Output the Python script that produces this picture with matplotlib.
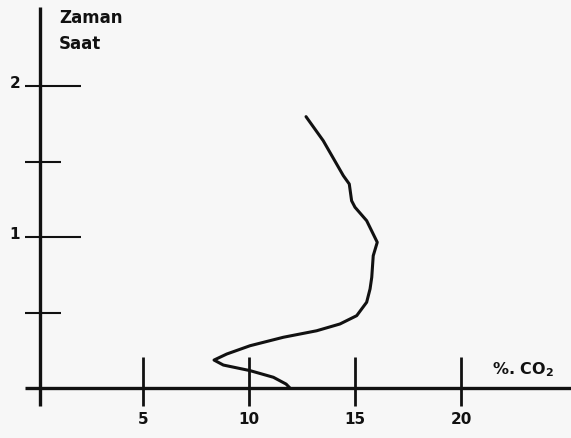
import matplotlib
matplotlib.use("Agg")
import matplotlib.pyplot as plt

# Data
co2 = [11.93, 11.75, 11.15, 10.05, 8.79, 8.35, 8.95, 10.05, 11.62, 13.19,
       14.29, 15.08, 15.55, 15.71, 15.79, 15.86, 16.05, 15.55, 15.00, 14.84,
       14.73, 14.45, 13.50, 12.69]
hours = [0.0, 0.026, 0.071, 0.115, 0.152, 0.185, 0.225, 0.280, 0.336, 0.379,
         0.424, 0.479, 0.568, 0.656, 0.733, 0.876, 0.965, 1.108, 1.197, 1.240,
         1.351, 1.406, 1.638, 1.797]

x_ticks = [5, 10, 15, 20]
x_tick_labels = ["5", "10", "15", "20"]
y_major = [1, 2]
y_major_labels = ["1", "2"]
y_minor = [0.5, 1.5]

W, H = 571, 439
fig = plt.figure(figsize=(W / 100, H / 100), dpi=100)
bg = "#f7f7f7"
fig.patch.set_facecolor(bg)
ax = fig.add_axes([0, 0, 1, 1])
ax.set_facecolor(bg)

# pixel -> data mapping: x0 at px 37, 21.2 px/unit; y0 at py 389, 151 px/unit
xpx0, xs = 37.0, 21.2
ypx0, ys = 389.0, 151.0
ax.set_xlim((0 - xpx0) / xs, (W - xpx0) / xs)
ax.set_ylim((ypx0 - H) / ys, ypx0 / ys)
ax.axis("off")

k = "#111111"
# axes lines
ax.plot([(25 - xpx0) / xs, (W - xpx0) / xs], [0, 0], color=k, lw=2.4, solid_capstyle="butt")
ax.plot([(40 - xpx0) / xs] * 2, [(ypx0 - 407) / ys, (ypx0 - 8) / ys], color=k, lw=2.4,
        solid_capstyle="butt")
yaxis_x = (40 - xpx0) / xs

# x ticks
ax.vlines(x_ticks, -18 / ys, 31 / ys, color=k, lw=2.0)
for xv, lab in zip(x_ticks, x_tick_labels):
    ax.text(xv, -31 / ys, lab, ha="center", va="center", fontsize=11,
            fontweight="bold", color=k)

# y ticks
ax.hlines(y_major, yaxis_x - 15 / xs, yaxis_x + 41 / xs, color=k, lw=1.5)
ax.hlines(y_minor, yaxis_x - 15 / xs, yaxis_x + 21 / xs, color=k, lw=1.5)
for yv, lab in zip(y_major, y_major_labels):
    ax.text(yaxis_x - 20 / xs, yv + 3 / ys, lab, ha="right", va="center",
            fontsize=11, fontweight="bold", color=k)

# axis titles
ax.text((59 - xpx0) / xs, (ypx0 - 18) / ys, "Zaman", ha="left", va="center",
        fontsize=12, fontweight="bold", color=k)
ax.text((59 - xpx0) / xs, (ypx0 - 44) / ys, "Saat", ha="left", va="center",
        fontsize=12, fontweight="bold", color=k)
ax.text((492 - xpx0) / xs, (ypx0 - 370) / ys, "%. CO$_\\mathbf{2}$", ha="left",
        va="center", fontsize=11.5, fontweight="bold", color=k)

# curve
ax.plot(co2, hours, color=k, lw=2.2, solid_joinstyle="round", solid_capstyle="round")

fig.savefig("out.png", dpi=100, facecolor=bg)
